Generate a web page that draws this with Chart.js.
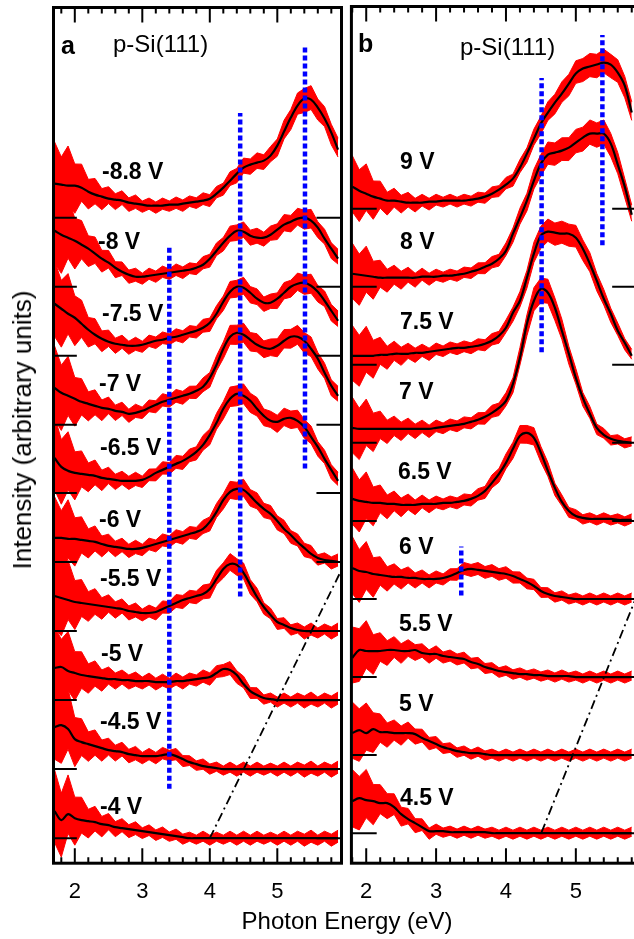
<!DOCTYPE html>
<html><head><meta charset="utf-8">
<script src="https://cdn.jsdelivr.net/npm/chart.js@4.4.1/dist/chart.umd.min.js"></script>
<style>
html,body{margin:0;padding:0;background:#fff;overflow:hidden;}
#wrap{position:relative;width:634px;height:939px;overflow:hidden;background:#fff;}
canvas{position:absolute;top:0;}
.t{position:absolute;font-family:'Liberation Sans',Arial,Helvetica,sans-serif;color:#000;white-space:nowrap;line-height:1;transform:translateY(-50%);z-index:2;}
.v{font-weight:bold;font-size:23px;}
.p{font-size:24px;}
.l{font-weight:bold;font-size:25px;}
</style></head>
<body><div id="wrap">
<canvas id="ca" width="345" height="939" style="left:0"></canvas>
<canvas id="cb" width="296" height="939" style="left:344px"></canvas>
<div class="t l" style="left:61px;top:45px">a</div>
<div class="t p" style="left:113px;top:44px">p-Si(111)</div>
<div class="t l" style="left:358px;top:43px">b</div>
<div class="t p" style="left:460px;top:47px">p-Si(111)</div>
<div id="labels"></div>
<div class="t p" style="left:347px;top:921px;transform:translate(-50%,-50%)">Photon Energy (eV)</div>
<div class="t p" style="left:22px;top:430px;font-size:26px;transform:translate(-50%,-50%) rotate(-90deg)">Intensity (arbitrary units)</div>
</div>
<script>
// ---------- data ----------
const energyA = [1.7,1.8,1.9,2.0,2.1,2.2,2.3,2.4,2.5,2.6,2.7,2.8,2.9,3.0,3.1,3.2,3.3,3.4,3.5,3.6,3.7,3.8,3.9,4.0,4.1,4.2,4.3,4.4,4.5,4.6,4.7,4.8,4.9,5.0,5.1,5.2,5.3,5.4,5.5,5.6,5.7,5.8,5.9];
const energyB = [1.8,1.9,2.0,2.1,2.2,2.3,2.4,2.5,2.6,2.7,2.8,2.9,3.0,3.1,3.2,3.3,3.4,3.5,3.6,3.7,3.8,3.9,4.0,4.1,4.2,4.3,4.4,4.5,4.6,4.7,4.8,4.9,5.0,5.1,5.2,5.3,5.4,5.5,5.6,5.7,5.8];
const tickLabels = [2,3,4,5];
const tickMarks = [1.8,2.0,2.2,2.4,2.6,2.8,3.0,3.2,3.4,3.6,3.8,4.0,4.2,4.4,4.6,4.8,5.0,5.2,5.4,5.6,5.8];

const voltsA = ['-8.8 V','-8 V','-7.5 V','-7 V','-6.5 V','-6 V','-5.5 V','-5 V','-4.5 V','-4 V'];
const offsetsA = [645,576,507,438,370,301,232,163,94,25];
const fitA_m88 = [34,33,32,32,30,26,23,21,19,18,17,15,14,13,12,12,12,13,13,14,15,16,17,19,24,30,37,44,50,53,55,57,62,72,86,100,112,119,118,110,99,85,68];
const fitA_m80 = [56,52,49,46,42,38,33,28,24,19,15,12,10,10,11,12,13,14,15,16,17,19,22,28,36,44,51,56,55,51,49,49,52,57,62,65,68,69,66,59,48,38,28];
const fitA_m75 = [52,47,42,38,32,26,21,17,14,12,11,10,10,11,13,15,16,18,19,21,23,25,28,33,42,54,64,69,68,63,57,53,53,57,63,69,72,73,70,64,55,45,35];
const fitA_m70 = [37,32,29,26,23,21,19,17,16,14,13,11,12,14,17,20,23,25,27,29,31,34,38,47,60,76,88,92,90,85,80,77,76,79,84,88,88,84,76,66,52,39,29];
const fitA_m65 = [35,26,22,20,19,18,17,15,14,13,12,12,12,13,16,20,23,26,29,32,36,41,48,58,70,84,94,99,97,92,84,77,72,71,74,75,72,66,56,46,34,23,12];
const fitA_m60 = [24,24,23,23,22,21,20,18,16,15,14,13,13,14,16,18,20,22,24,26,28,30,33,40,50,62,70,73,72,66,59,53,48,41,33,27,20,14,8,4,2,1,0];
const fitA_m55 = [35,33,31,29,28,27,26,25,24,23,22,20,19,18,18,19,22,25,28,31,33,35,37,42,52,62,67,66,58,46,34,24,16,9,6,3,1,0,0,0,0,0,0];
const fitA_m50 = [32,33,29,27,25,24,23,22,21,21,20,20,19,19,19,18,18,18,19,19,20,21,22,23,27,31,30,25,16,9,5,2,1,0,0,0,0,0,0,0,0,0,0];
const fitA_m45 = [42,44,40,30,27,25,23,21,19,18,17,15,14,13,13,13,14,15,13,10,7,5,3,2,1,0,0,0,0,0,0,0,0,0,0,0,0,0,0,0,0,0,0];
const fitA_m40 = [27,18,24,20,18,17,16,14,13,11,10,9,8,7,6,5,4,3,2,1,0,0,0,0,0,0,0,0,0,0,0,0,0,0,0,0,0,0,0,0,0,0,0];
const noiseUpA = [40,26,38,20,22,11,15,7,11,5,9,4,8,3,7,3,7,3,7,3,6,3,7,3,6,3,7,3,7,3,7,3,6,3,7,3,7,4,8,3,7,4,8];
const noiseDnA = [30,36,18,26,12,16,8,12,4,9,3,8,4,7,3,7,3,6,3,7,3,6,3,7,3,6,3,7,3,7,3,6,3,7,3,7,3,8,4,7,3,8,4];

const voltsB = ['9 V','8 V','7.5 V','7 V','6.5 V','6 V','5.5 V','5 V','4.5 V'];
const offsetsB = [654,576,498,420,342,264,186,108,30];
const fitB_p90 = [22,18,15,12,10,8,8,7,6,6,6,7,7,8,8,8,8,9,10,12,15,19,24,30,41,55,70,85,96,106,115,125,135,140,142,144,146,144,136,123,96];
const fitB_p80 = [13,12,11,10,9,9,9,9,9,9,10,10,10,11,11,12,13,15,17,20,23,28,36,53,69,86,106,123,132,134,136,139,144,149,153,153,153,143,122,100,72];
const fitB_p75 = [9,9,9,9,10,10,11,11,11,12,12,13,14,15,16,17,17,18,19,21,24,29,37,52,64,87,111,129,133,132,131,131,127,116,101,84,66,51,34,22,9];
const fitB_p70 = [15,14,14,14,14,14,14,14,14,14,14,14,15,16,17,18,19,21,23,26,30,35,42,59,85,119,142,154,150,135,112,89,65,45,29,15,8,4,2,1,0];
const fitB_p65 = [22,20,19,18,18,17,17,16,16,16,17,17,17,18,18,19,20,22,25,30,38,47,58,72,85,88,83,68,50,33,19,10,5,3,2,2,2,2,1,1,1];
const fitB_p60 = [31,28,27,25,24,23,22,22,21,21,20,20,20,21,23,26,29,30,29,28,27,26,25,23,20,17,13,8,5,3,2,1,0,0,0,0,0,0,0,0,0];
const fitB_p55 = [19,27,26,26,26,27,27,26,26,27,24,23,23,21,20,19,18,15,13,10,8,6,5,4,3,3,2,2,1,1,1,1,0,0,0,0,0,0,0,0,0];
const fitB_p50 = [22,25,22,26,23,23,22,22,22,21,17,14,11,8,6,4,3,2,2,1,0,0,0,0,0,0,0,0,0,0,0,0,0,0,0,0,0,0,0,0,0];
const fitB_p45 = [32,35,33,32,30,30,26,19,14,10,6,2,2,2,1,1,1,1,1,1,0,0,0,0,0,0,0,0,0,0,0,0,0,0,0,0,0,0,0,0,0];
const noiseUpB = [30,20,29,15,17,8,12,6,10,4,8,3,7,3,6,3,6,3,6,3,6,3,6,3,6,3,6,3,6,3,6,3,6,3,6,3,6,3,6,3,6];
const noiseDnB = [24,30,16,22,9,14,6,11,4,9,3,8,3,6,3,6,3,6,3,6,3,6,3,6,3,6,3,6,3,6,3,6,3,6,3,6,3,6,3,6,3];

// guide lines [energy, yStart, yEnd]
const blueA = [[3.40,74.5,616.5],[4.45,266.5,749.5],[5.41,394.5,815.5]];
const blueB = [[4.51,510.5,784.5],[5.38,617.5,827.5],[3.36,267.5,316.5]];
const dashDotA = [[4.0,25],[5.95,293]];
const dashDotB = [[4.51,31],[5.86,265]];

const NOISE_GAIN = 0.05;
const RED = '#ff0000';

// ---------- build ----------
function buildDatasets(energy, fits, offsets, nUp, nDn, leftEnd, rightStart, xMin, xMax, blue, dashDot) {
  const ds = [];
  fits.forEach((vals, k) => {
    const off = offsets[k];
    ds.push({data: energy.map((e,i)=>({x:e, y: off + vals[i] + nUp[i] + NOISE_GAIN*vals[i]})),
      borderColor: RED, borderWidth: 1, pointRadius: 0, tension: 0, fill: false, order: 3});
    ds.push({data: energy.map((e,i)=>({x:e, y: off + vals[i] - nDn[i] - NOISE_GAIN*vals[i]})),
      borderColor: RED, borderWidth: 1, pointRadius: 0, tension: 0, fill: '-1', backgroundColor: RED, order: 3});
    ds.push({data: energy.map((e,i)=>({x:e, y: off + vals[i]})),
      borderColor: '#000', borderWidth: 2.2, pointRadius: 0, tension: 0.35, fill: false, order: 1});
    ds.push({data: [{x:xMin,y:off},{x:leftEnd,y:off}], borderColor:'#000', borderWidth:2, pointRadius:0, fill:false, order:0});
    ds.push({data: [{x:rightStart,y:off},{x:xMax,y:off}], borderColor:'#000', borderWidth:2, pointRadius:0, fill:false, order:0});
  });
  blue.forEach(b => ds.push({data:[{x:b[0],y:b[1]},{x:b[0],y:b[2]}], borderColor:'#0000ff', borderWidth:4.5,
    borderDash:[5,3], borderCapStyle:'butt', pointRadius:0, fill:false, order:0}));
  ds.push({data: dashDot.map(p=>({x:p[0],y:p[1]})), borderColor:'#000', borderWidth:1.8,
    borderDash:[9,4,2,4], pointRadius:0, fill:false, order:0});
  return ds;
}

const framePlugin = {
  id: 'frame',
  afterDatasetsDraw(chart) {
    const {ctx, chartArea: a} = chart;
    const x = chart.scales.x;
    ctx.save();
    ctx.strokeStyle = '#000';
    ctx.lineWidth = 2;
    tickMarks.forEach(v => {
      const px = x.getPixelForValue(v);
      const major = Math.abs(v - Math.round(v)) < 1e-6;
      const len = major ? 15 : 6;
      ctx.beginPath();
      ctx.moveTo(px, a.top); ctx.lineTo(px, a.top + len);
      ctx.moveTo(px, a.bottom); ctx.lineTo(px, a.bottom - len);
      ctx.stroke();
    });
    ctx.lineWidth = 3;
    ctx.strokeRect(a.left, a.top, a.right - a.left, a.bottom - a.top);
    ctx.restore();
  }
};

function makeChart(id, datasets, xMin, xMax, yMax, pad) {
  return new Chart(document.getElementById(id), {
    type: 'line',
    data: {datasets},
    options: {
      responsive: false, animation: false, events: [],
      layout: {padding: pad},
      plugins: {legend: {display: false}, tooltip: {enabled: false}},
      scales: {
        x: {type: 'linear', min: xMin, max: xMax,
            grid: {display: false, drawTicks: false}, border: {display: false},
            ticks: {font: {family: "'Liberation Sans', Arial, sans-serif", size: 22}, color: '#000',
                    padding: 16, autoSkip: false, maxRotation: 0},
            afterBuildTicks: ax => { ax.ticks = tickLabels.map(v => ({value: v})); }},
        y: {type: 'linear', min: 0, max: yMax, display: false}
      }
    },
    plugins: [framePlugin]
  });
}

const xMinA = 1.6844, xMaxA = 5.951;
const xMinB = 1.788, xMaxB = 5.861;
const fitsA = [fitA_m88, fitA_m80, fitA_m75, fitA_m70, fitA_m65, fitA_m60, fitA_m55, fitA_m50, fitA_m45, fitA_m40];
const fitsB = [fitB_p90, fitB_p80, fitB_p75, fitB_p70, fitB_p65, fitB_p60, fitB_p55, fitB_p50, fitB_p45];

makeChart('ca', buildDatasets(energyA, fitsA, offsetsA, noiseUpA, noiseDnA, 2.03, 5.58, xMinA, xMaxA, blueA, dashDotA),
  xMinA, xMaxA, 855, {left: 53.5, right: 3.5, top: 7.5, bottom: 17.4});
makeChart('cb', buildDatasets(energyB, fitsB, offsetsB, noiseUpB, noiseDnB, 2.15, 5.52, xMinB, xMaxB, blueB, dashDotB),
  xMinB, xMaxB, 856, {left: 2, right: 4, top: 6.5, bottom: 17.4});

// voltage labels (positions in page pixels)
const labelPosA = [[102,171],[98,241],[102,313],[99,383],[100,447],[99,519],[100,578],[101,653],[100,721],[100,806]];
const labelPosB = [[400,161],[400,241],[400,321],[399,391],[398,471],[399,546],[399,623],[399,703],[400,797]];
const lab = document.getElementById('labels');
function addLabels(texts, pos) {
  texts.forEach((t, i) => {
    const d = document.createElement('div');
    d.className = 't v';
    d.style.left = pos[i][0] + 'px';
    d.style.top = pos[i][1] + 'px';
    d.textContent = t;
    lab.appendChild(d);
  });
}
addLabels(voltsA, labelPosA);
addLabels(voltsB, labelPosB);
</script>
</body></html>
